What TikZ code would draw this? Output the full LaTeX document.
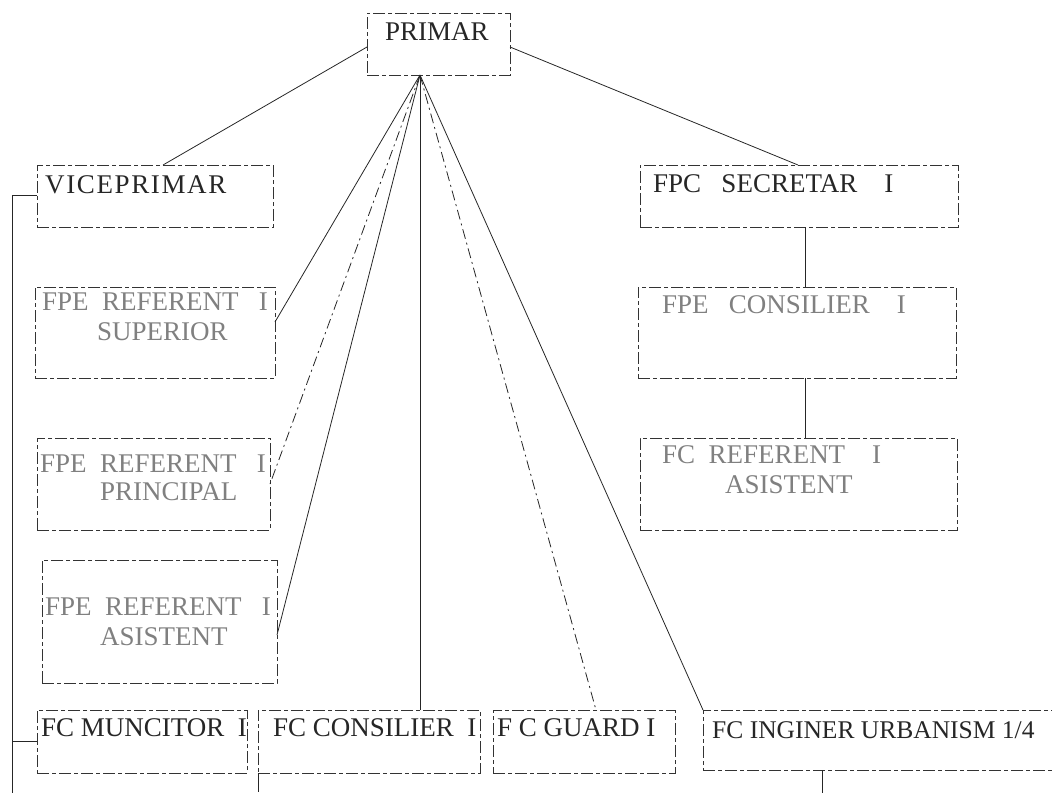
\documentclass[tikz,border=0pt]{standalone}
\usepackage{fontspec}
\setmainfont{Liberation Serif}
\usetikzlibrary{calc}
\begin{document}
\begin{tikzpicture}[x=1pt,y=-1pt,
  box/.style={draw=black!80, line width=0.9pt, dash pattern=on 12pt off 3pt on 4pt off 3pt, inner sep=0pt, outer sep=0pt, anchor=north west},
  txt/.style={inner sep=0pt, anchor=base west, font=\fontsize{27}{30}\selectfont, text=black!85},
  ftxt/.style={txt, text=black!50},
  conn/.style={draw=black!85, line width=0.8pt},
  dconn/.style={conn, dash pattern=on 10pt off 4pt on 2pt off 4pt}]
\useasboundingbox (0,0) rectangle (1052,793);
\clip (0,0) rectangle (1052,793);
% boxes
\node[box, minimum width=143, minimum height=62] (primar) at (367,13) {};
\node[box, minimum width=236, minimum height=62] (vice) at (37,165) {};
\node[box, minimum width=240, minimum height=91] (sup) at (35,287) {};
\node[box, minimum width=233, minimum height=92] (princ) at (37,438) {};
\node[box, minimum width=235, minimum height=123] (asis) at (42,560) {};
\node[box, minimum width=318, minimum height=62] (secr) at (640,165) {};
\node[box, minimum width=318, minimum height=91] (cons) at (638,287) {};
\node[box, minimum width=317, minimum height=92] (fcref) at (640,438) {};
\node[box, minimum width=210, minimum height=63] (munc) at (37,710) {};
\node[box, minimum width=222, minimum height=63] (fccons) at (258,710) {};
\node[box, minimum width=182, minimum height=63] (guard) at (493,710) {};
\node[box, minimum width=370, minimum height=60] (ing) at (703,710) {};
% texts
\node[txt] (tprimar) at (385,40) {PRIMAR};
\node[txt] (tvice) at (45,193) {\addfontfeature{LetterSpace=6}VICEPRIMAR};
\node[ftxt] (tsup1) at (42,310) {FPE~~REFERENT~~~I};
\node[ftxt] (tsup2) at (97,340) {SUPERIOR};
\node[ftxt] (tprinc1) at (40,472) {FPE~~REFERENT~~~I};
\node[ftxt] (tprinc2) at (100,500) {PRINCIPAL};
\node[ftxt] (tasis1) at (45,615) {FPE~~REFERENT~~~I};
\node[ftxt] (tasis2) at (100,645) {ASISTENT};
\node[txt] (tsecr) at (653,192) {FPC~~~SECRETAR~~~~I};
\node[ftxt] (tcons) at (662,313) {FPE~~~CONSILIER~~~~I};
\node[ftxt] (tfcref1) at (662,463) {FC~~REFERENT~~~~I};
\node[ftxt] (tfcref2) at (725,493) {ASISTENT};
\node[txt] (tmunc) at (41,736) {FC MUNCITOR~~I};
\node[txt] (tfccons) at (273,736) {FC CONSILIER~~I};
\node[txt] (tguard) at (497,736) {F C GUARD I};
\node[txt, font=\fontsize{25.5}{30}\selectfont] (ting) at (712,738) {FC INGINER URBANISM 1/4};
% connectors
\coordinate (apex) at ($(primar.south west)+(53,0)$);
\draw[conn] ($(primar.north west)+(0,34)$) -- ($(vice.north west)+(126,0)$);
\draw[conn] ($(primar.north east)+(0,34)$) -- ($(secr.north west)+(158,0)$);
\draw[conn] (apex) -- ($(sup.north east)+(0,35)$);
\draw[dconn] (apex) -- (princ.east);
\draw[conn] (apex) -- ($(asis.north east)+(0,75)$);
\draw[conn] (apex) -- (fccons.north -| apex);
\draw[dconn] (apex) -- ($(guard.north west)+(103,0)$);
\draw[conn] (apex) -- (ing.north west);
\coordinate (sc) at ($(secr.south west)+(165,0)$);
\draw[conn] (sc) -- (sc |- cons.north);
\draw[conn] (sc |- cons.south) -- (sc |- fcref.north);
\coordinate (lb) at (12,793);
\draw[conn] ($(vice.north west)+(0,30)$) -| (lb);
\draw[conn] (munc.west) -- (munc.west -| lb);
\coordinate (ib) at (822,793);
\draw[conn] ($(ing.south west)+(119,0)$) -- (ib);
\coordinate (fb) at (258,792);
\draw[conn] (fccons.south west) -- (fb);
\end{tikzpicture}
\end{document}
